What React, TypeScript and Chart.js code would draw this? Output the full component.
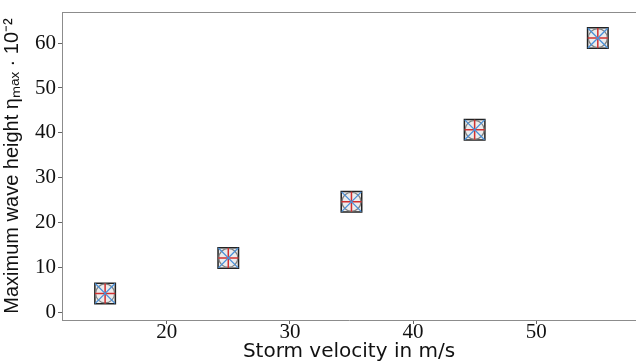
import React, { useEffect, useRef } from "react";
import { Chart, registerables } from "chart.js";

Chart.register(...registerables);

const velocities = [15, 25, 35, 45, 55];
const waveHeights = [4.3, 12.2, 24.7, 40.7, 61.1];
const xTicks = [20, 30, 40, 50];
const yTicks = [0, 10, 20, 30, 40, 50, 60];

const xTitle = "Storm velocity in m/s";
const yTitle = "Maximum wave height ηₘₐₓ · 10⁻²";

const topBorder = {
  id: "topBorder",
  afterDraw(chart: any) {
    const { ctx, chartArea } = chart;
    ctx.save();
    ctx.strokeStyle = "#8c8c8c";
    ctx.lineWidth = 1;
    ctx.beginPath();
    ctx.moveTo(chartArea.left, chartArea.top + 0.5);
    ctx.lineTo(chartArea.right, chartArea.top + 0.5);
    ctx.stroke();
    ctx.restore();
  },
};

const makePts = () => velocities.map((v, i) => ({ x: v, y: waveHeights[i] }));

export default function App() {
  const ref = useRef<HTMLCanvasElement>(null);
  useEffect(() => {
    document.body.style.margin = "0";
    const chart = new Chart(ref.current!, {
      type: "scatter",
      data: {
        datasets: [
          {
            data: makePts(),
            pointStyle: "rect",
            pointRadius: 14.5,
            pointBorderColor: "#222222",
            pointBackgroundColor: "#ececec",
            pointBorderWidth: 1.5,
            order: 4,
          },
          {
            data: makePts(),
            pointStyle: "circle",
            pointRadius: 9.5,
            pointBorderColor: "#7f7f7f",
            pointBackgroundColor: "rgba(0,0,0,0)",
            pointBorderWidth: 1.2,
            order: 3,
          },
          {
            data: makePts(),
            pointStyle: "cross",
            pointRadius: 10,
            pointBorderColor: "#d03030",
            pointBackgroundColor: "rgba(0,0,0,0)",
            pointBorderWidth: 1.5,
            order: 2,
          },
          {
            data: makePts(),
            pointStyle: "crossRot",
            pointRadius: 14,
            pointBorderColor: "#4a90d9",
            pointBackgroundColor: "rgba(0,0,0,0)",
            pointBorderWidth: 1.3,
            order: 1,
          },
        ],
      },
      options: {
        animation: false,
        responsive: false,
        events: [],
        layout: { autoPadding: false, padding: { top: 12, right: 0, left: 0, bottom: 0 } },
        plugins: { legend: { display: false }, tooltip: { enabled: false } },
        scales: {
          x: {
            type: "linear",
            min: 11.5,
            max: 58.1,
            afterFit: (s: any) => {
              s.height = 44;
              s.paddingLeft = 0;
              s.paddingRight = 0;
            },
            afterBuildTicks: (s: any) => {
              s.ticks = xTicks.map((v) => ({ value: v }));
            },
            grid: {
              drawOnChartArea: false,
              drawTicks: true,
              tickLength: 4,
              color: "#666",
            },
            border: { display: true, color: "#8c8c8c", width: 1 },
            ticks: {
              color: "#111",
              padding: -4,
              maxRotation: 0,
              font: { family: "Liberation Serif", size: 21 },
            },
            title: {
              display: true,
              text: xTitle,
              color: "#111",
              padding: { top: 0, bottom: 0 },
              font: { family: "DejaVu Sans", size: 20 },
            },
          },
          y: {
            type: "linear",
            min: -1.6,
            max: 66.9,
            afterFit: (s: any) => {
              s.width = 62;
              s.paddingTop = 0;
              s.paddingBottom = 0;
            },
            afterBuildTicks: (s: any) => {
              s.ticks = yTicks.map((v) => ({ value: v }));
            },
            grid: {
              drawOnChartArea: false,
              drawTicks: true,
              tickLength: 4,
              color: "#666",
            },
            border: { display: true, color: "#8c8c8c", width: 1 },
            ticks: {
              color: "#111",
              padding: 2,
              font: { family: "Liberation Serif", size: 21 },
            },
            title: {
              display: true,
              text: yTitle,
              color: "#111",
              padding: { top: 0, bottom: 4 },
              font: { family: "Liberation Sans", size: 20 },
            },
          },
        },
      },
      plugins: [topBorder],
    });
    return () => chart.destroy();
  }, []);
  return <canvas ref={ref} width={636} height={364} style={{ display: "block" }} />;
}
